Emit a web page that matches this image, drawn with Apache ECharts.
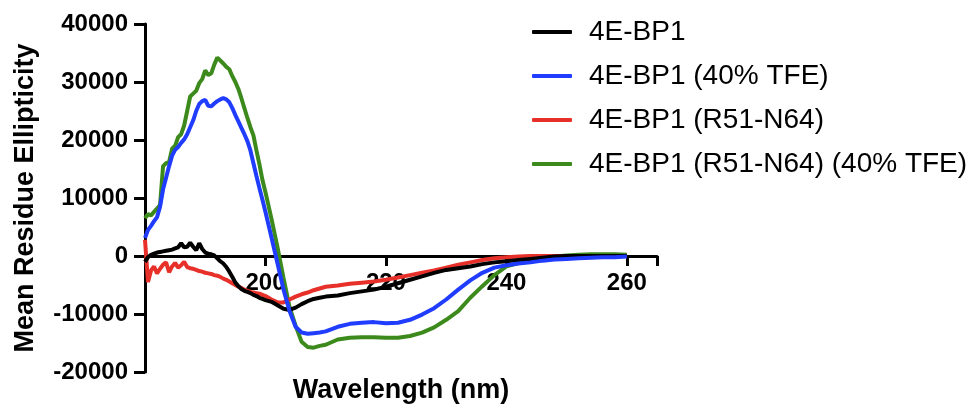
<!DOCTYPE html>
<html>
<head>
<meta charset="utf-8">
<script src="https://cdn.jsdelivr.net/npm/echarts@6/dist/echarts.min.js"></script>
<style>
  html, body { margin: 0; padding: 0; background: #fff; }
  #cd { width: 970px; height: 407px; }
</style>
</head>
<body>
<div id="cd"></div>
<script>
// wavelength grid (nm)
const wavelength = [
  180, 180.5, 181, 181.5, 182, 182.5, 183, 183.5, 184, 184.5,
  185, 185.5, 186, 186.5, 187, 187.5, 188, 188.5, 189, 189.5,
  190, 190.5, 191, 191.5, 192, 192.5, 193, 193.5, 194, 194.5,
  195, 195.5, 196, 196.5, 197, 197.5, 198, 198.5, 199, 199.5,
  200, 201, 202, 203, 204, 205, 206, 207, 208, 209,
  210, 212, 214, 216, 218, 220, 222, 224, 226, 228,
  230, 232, 234, 236, 238, 240, 242, 244, 246, 248,
  250, 252, 254, 256, 258, 260
]

const bp1 = [
  -1000, -200, 200, 400, 600, 700, 800, 900, 1000, 1100,
  1300, 1500, 2200, 1500, 1600, 2300, 1600, 1000, 2200, 1200,
  600, 400, 300, 100, -400, -900, -1300, -1900, -2700, -3600,
  -4600, -5200, -5700, -6000, -6200, -6400, -6700, -6900, -7200, -7400,
  -7600, -7900, -8500, -9100, -9300, -8900, -8300, -7800, -7400, -7200,
  -7000, -6800, -6400, -6100, -5800, -5300, -4700, -4100, -3500, -2900,
  -2400, -2100, -1800, -1400, -1100, -900, -700, -500, -300, -100,
  0, 0, 0, 0, 0, 0
]

const bp1Tfe = [
  3100, 4500, 5200, 6000, 6700, 8500, 11500, 13500, 15500, 17300,
  18300, 18800, 19500, 20100, 21000, 22200, 23400, 25000, 26200, 26700,
  26900, 25900, 25800, 26300, 26700, 27000, 27200, 27000, 26500, 25500,
  24300, 23200, 22100, 21000, 19800, 18200, 16000, 13800, 11700, 9700,
  7600, 3200, -1300, -5800, -9500, -12200, -13200, -13400, -13300, -13200,
  -13000, -12200, -11700, -11500, -11400, -11600, -11500, -11000, -10100, -9000,
  -7500, -5800, -4200, -2900, -2000, -1600, -1300, -1100, -800, -600,
  -500, -400, -300, -200, -200, -100
]

const frag = [
  2800, -4500, -2500, -1800, -3000, -2200, -1500, -1100, -2800, -1800,
  -1200, -2000, -1600, -1000, -1900, -2100, -2200, -2400, -2600, -2700,
  -2900, -3000, -3100, -3300, -3400, -3600, -3900, -4100, -4400, -4700,
  -5000, -5300, -5500, -5800, -6000, -6200, -6300, -6400, -6500, -6700,
  -6900, -7500, -8000, -8000, -7500, -7000, -6600, -6300, -5900, -5600,
  -5300, -5100, -4800, -4600, -4400, -4100, -3700, -3300, -2900, -2500,
  -2000, -1500, -1100, -700, -400, -200, -100, 0, 0, 0,
  0, 0, 0, 0, 0, 0
]

const fragTfe = [
  6500, 7200, 7000, 7600, 8200, 8800, 15500, 16000, 16200, 18500,
  19000, 20500, 21000, 22500, 25000, 27500, 28000, 28500, 29800, 30500,
  32000, 31200, 31500, 33000, 34200, 33700, 33200, 32600, 32200, 31000,
  30000, 28800, 27200, 25500, 23800, 22200, 20800, 18200, 15800, 13100,
  11000, 6400, 1500, -3800, -8800, -12000, -14800, -15700, -15800, -15500,
  -15300, -14400, -14100, -14000, -14000, -14100, -14100, -13800, -13200, -12300,
  -11000, -9500, -7200, -5200, -3300, -1800, -1200, -900, -500, -100,
  100, 200, 300, 300, 300, 200
]

const names = ['4E-BP1', '4E-BP1 (40% TFE)', '4E-BP1 (R51-N64)', '4E-BP1 (R51-N64) (40% TFE)']
const colors = ['#000000', '#1f3cff', '#e8302a', '#3c8a1c']
const zOrder = [3, 4, 2, 1]

const pairs = ys => wavelength.map((w, i) => [w, ys[i]])

const chart = echarts.init(document.getElementById('cd'))
const font = 'Liberation Sans, Arial, Helvetica, sans-serif'

chart.setOption({
  animation: false,
  textStyle: { fontFamily: font },
  grid: { left: 145, right: 313, top: 24, bottom: 35, containLabel: false, outerBoundsMode: 'none' },
  legend: {
    orient: 'vertical',
    left: 527,
    top: 12,
    icon: 'roundRect',
    itemWidth: 40,
    itemHeight: 4,
    itemGap: 14,
    data: names,
    textStyle: { fontSize: 28, lineHeight: 30, color: '#000', padding: [0, 0, 0, 12], fontFamily: font }
  },
  xAxis: {
    type: 'value',
    min: 180,
    max: 265,
    interval: 20,
    position: 'bottom',
    offset: -116, // lift the axis from the grid bottom up to y = 0
    name: 'Wavelength (nm)',
    nameLocation: 'middle',
    nameGap: 121,
    nameMoveOverlap: false,
    nameTextStyle: { fontSize: 27, fontWeight: 'bold', color: '#000', fontFamily: font },
    splitLine: { show: false },
    axisLine: { onZero: false, lineStyle: { color: '#000', width: 3 } },
    axisTick: { length: 10, lineStyle: { color: '#000', width: 3 } },
    axisLabel: {
      margin: 15,
      fontSize: 24,
      fontWeight: 'bold',
      color: '#000',
      fontFamily: font,
      formatter: v => (v > 180 && v % 20 === 0) ? String(v) : ''
    }
  },
  yAxis: {
    type: 'value',
    min: -20000,
    max: 40000,
    interval: 10000,
    name: 'Mean Residue Ellipticity',
    nameLocation: 'middle',
    nameGap: 106,
    nameMoveOverlap: false,
    nameTextStyle: { fontSize: 27, fontWeight: 'bold', color: '#000', fontFamily: font },
    splitLine: { show: false },
    axisLine: { show: true, onZero: false, lineStyle: { color: '#000', width: 3 } },
    axisTick: { show: true, length: 11, lineStyle: { color: '#000', width: 3 } },
    axisLabel: {
      margin: 17, fontSize: 24, fontWeight: 'bold', color: '#000', fontFamily: font,
      formatter: v => String(v)
    }
  },
  series: names.map((n, i) => ({
    name: n,
    type: 'line',
    data: pairs([bp1, bp1Tfe, frag, fragTfe][i]),
    showSymbol: false,
    symbol: 'none',
    z: zOrder[i],
    color: colors[i],
    lineStyle: { width: 4, color: colors[i] }
  }))
})
</script>
</body>
</html>
